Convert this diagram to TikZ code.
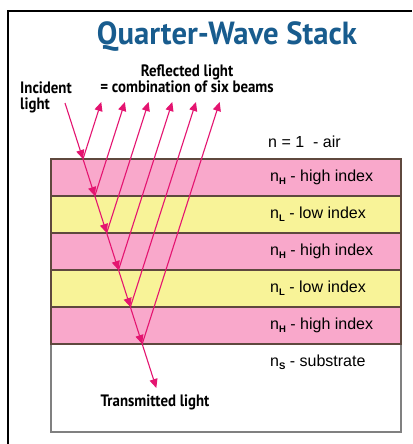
\documentclass[tikz,border=0pt]{standalone}
\usepackage{fontspec}
\setmainfont{Liberation Sans}
\newfontfamily\headfont{PT Sans}
\usetikzlibrary{arrows.meta, positioning, calc}

\definecolor{raypink}{RGB}{228,20,112}
\definecolor{layhigh}{RGB}{249,168,203}
\definecolor{laylow}{RGB}{248,243,152}
\definecolor{edgebrown}{RGB}{95,72,62}
\definecolor{titleblue}{RGB}{24,92,142}

\tikzset{
  ray/.style={raypink, line width=1.1pt, -{Triangle[length=9pt,width=8pt]}},
  layer/.style={draw=edgebrown, line width=1.3pt, minimum width=350pt, minimum height=37pt, inner sep=0pt, outer sep=0pt},
  idxlabel/.style={anchor=west, font=\fontsize{16}{18}\selectfont, inner sep=0pt},
  blacklabel/.style={font=\headfont\bfseries\fontsize{16.5}{16}\selectfont, inner sep=0pt}
}
\newcommand{\nsub}[1]{n\raisebox{-0.35ex}{\fontsize{9.5}{9}\selectfont\bfseries #1}}

\begin{document}
\begin{tikzpicture}[x=1pt, y=-1pt]
\useasboundingbox (0,0) rectangle (412,444);
\fill[white] (0,0) rectangle (412,444);

% Frame
\draw[line width=2pt] (8.3,444) -- (8.3,11.3) -- (412,11.3);

% Title
\node[titleblue, font=\headfont\bfseries\fontsize{32}{34}\selectfont, inner sep=0pt] (title) at (227,37) {\scalebox{0.96}[1]{Quarter-Wave Stack}};

% Substrate and layers
\node[draw=gray, line width=1.2pt, minimum width=350pt, minimum height=88pt, inner sep=0pt] (sub) at (226,388) {};
\foreach \i/\col in {0/layhigh,1/laylow,2/layhigh,3/laylow,4/layhigh}
  \node[layer, fill=\col] (L\i) at (226,{177.5+37*\i}) {};

% Index labels
\node[idxlabel] (air) at (268,142) {n = 1 \ - air};
\foreach \i/\txt in {0/{\nsub{H} - high index},1/{\nsub{L} - low index},2/{\nsub{H} - high index},3/{\nsub{L} - low index},4/{\nsub{H} - high index}}
  \node[idxlabel] (t\i) at (270,{177.5+37*\i}) {\txt};
\node[idxlabel] (tS) at (270,362) {\nsub{S} - substrate};

% Ray points
\coordinate (s) at (65,103);
\foreach \i in {0,...,5} {
  \coordinate (p\i) at ({83+11.84*\i},{159+37*\i});
  \coordinate (r\i) at ({83+11.84*\i+0.32*(57+37*\i)},102);
}
\coordinate (t) at (156.3,388);

% Incident and transmitted
\draw[ray] (s) -- (p0);
\foreach \i [count=\j from 1] in {0,...,4}
  \draw[ray] (p\i) -- (p\j);
\draw[ray] (p5) -- (t);

% Reflected beams
\foreach \i in {0,...,5}
  \draw[ray] (p\i) -- (r\i);

% Text labels
\node[blacklabel, anchor=west] (inc) at (20,98) {\scalebox{0.9}[1]{\begin{tabular}{@{}l@{}}Incident\\light\end{tabular}}};
\node[blacklabel] (refl) at (187,81) {\scalebox{0.9}[1]{\begin{tabular}{@{}c@{}}Reflected light\\= combination of six beams\end{tabular}}};
\node[blacklabel] (trans) at (155,402) {\scalebox{0.9}[1]{Transmitted light}};

\end{tikzpicture}
\end{document}
